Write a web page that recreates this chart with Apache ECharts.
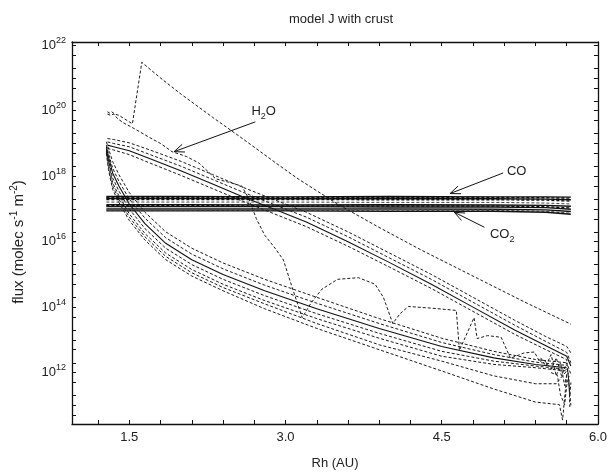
<!DOCTYPE html>
<html lang="en">
<head>
<meta charset="UTF-8">
<title>model J with crust</title>
<style>
  html, body { margin: 0; padding: 0; background: #fff; }
  #chart { width: 610px; height: 475px; }
</style>
<script src="https://cdn.jsdelivr.net/npm/echarts@6/dist/echarts.min.js"></script>
</head>
<body>
<div id="chart"></div>
<script>
// axis ticks
const xTicks = [1.2, 1.5, 1.8, 2.1, 2.4, 2.7, 3.0, 3.3, 3.6, 3.9, 4.2, 4.5, 4.8, 5.1, 5.4, 5.7, 6.0];
const xLabels = [1.5, 3.0, 4.5, 6.0];
const yLabels = [12, 14, 16, 18, 20, 22];      // exponents of 10
const yMantissas = [1, 2, 5];

// all flux values below are log10(flux), Rh in AU

// CO / CO2 band (nearly flat lines)
const xBand = [1.28, 2.0, 3.0, 4.0, 5.0, 5.5, 5.74];
const coLine1 = [17.38, 17.38, 17.37, 17.38, 17.37, 17.37, 17.36];
const coLine2 = [17.35, 17.35, 17.35, 17.34, 17.35, 17.34, 17.33];
const coLine3 = [17.32, 17.32, 17.31, 17.32, 17.31, 17.30, 17.28];
const coLine4 = [17.29, 17.29, 17.29, 17.28, 17.28, 17.27, 17.24];
const midLine = [17.21, 17.21, 17.21, 17.20, 17.20, 17.18, 17.15];
const co2Line1 = [17.13, 17.13, 17.12, 17.13, 17.12, 17.11, 17.08];
const co2Line2 = [17.10, 17.10, 17.09, 17.09, 17.09, 17.07, 17.03];
const co2Line3 = [17.07, 17.07, 17.07, 17.06, 17.06, 17.04, 16.99];
const co2Line4 = [17.00, 17.00, 17.00, 17.00, 16.99, 16.97, 16.92];
const co2Line5 = [16.97, 16.97, 16.96, 16.97, 16.96, 16.93, 16.87];
const co2Line6 = [16.94, 16.94, 16.94, 16.93, 16.93, 16.90, 16.84];

// H2O: spiked curve
const h2oSpike = [[1.29,19.97],[1.31,19.93],[1.33,19.97],[1.36,19.9],[1.40,19.86],[1.45,19.76],[1.53,19.6],
  [1.62,21.48],[1.8,21.0],[2.0,20.5],[2.3,19.8],[2.6,19.12],[2.9,18.42],[3.12,17.92],[3.5,17.15],
  [3.89,16.45],[4.3,15.75],[4.8,14.95],[5.3,14.15],[5.74,13.48]];

// H2O: jagged curve
const h2oJagged = [[1.29,19.9],[1.32,19.86],[1.35,19.9],[1.39,19.75],[1.45,19.62],[1.55,19.45],[1.69,19.19],
  [1.8,19.0],[1.91,18.75],[2.05,18.6],[2.17,18.4],[2.33,17.92],[2.45,17.82],[2.58,17.7],[2.65,17.3],
  [2.72,16.7],[2.8,16.2],[2.9,15.8],[2.98,15.44],[3.06,14.64],[3.16,13.68],[3.25,14.15],[3.35,14.55],
  [3.5,14.85],[3.7,14.9],[3.86,14.7],[3.94,14.3],[4.03,13.5],[4.1,13.8],[4.18,14.02],[4.4,13.97],
  [4.64,13.9],[4.67,12.68],[4.81,13.68],[4.84,13.04],[4.94,13.13],[5.07,13.08],[5.16,12.44],[5.29,12.6],
  [5.39,12.63],[5.44,12.33],[5.48,12.4],[5.55,12.1],[5.6,12.45],[5.65,11.9],[5.7,12.3],[5.74,11.95]];

// H2O: upper bundle
const xUpper = [1.29, 1.35, 1.5, 1.7, 2.0, 2.3, 2.6, 2.9, 3.2, 3.6, 4.0, 4.4, 4.8, 5.2, 5.5, 5.7, 5.74];
const upper1 = [19.15, 19.12, 19.02, 18.8, 18.45, 18.05, 17.65, 17.27, 16.9, 16.3, 15.65, 15.0, 14.3, 13.6, 13.1, 12.8, 12.6];
const upper2 = [19.05, 19.0, 18.9, 18.66, 18.3, 17.9, 17.5, 17.12, 16.75, 16.15, 15.5, 14.85, 14.15, 13.45, 12.95, 12.62, 12.3];
const upper3 = [18.95, 18.9, 18.78, 18.53, 18.16, 17.76, 17.36, 16.98, 16.6, 16.0, 15.36, 14.7, 14.0, 13.3, 12.82, 12.5, 12.2];
const upper4 = [18.85, 18.8, 18.66, 18.4, 18.02, 17.62, 17.22, 16.84, 16.46, 15.86, 15.22, 14.57, 13.87, 13.17, 12.7, 12.4, 11.0];

// H2O: lower bundle
const xLower = [1.28, 1.3, 1.34, 1.4, 1.5, 1.65, 1.85, 2.1, 2.4, 2.8, 3.3, 3.9, 4.5, 5.0, 5.4, 5.7];
const lower1 = [19.05, 18.85, 18.45, 18.05, 17.5, 16.9, 16.3, 15.8, 15.35, 14.85, 14.3, 13.65, 13.05, 12.65, 12.4, 12.3];
const lower2 = [18.95, 18.7, 18.25, 17.85, 17.3, 16.72, 16.12, 15.62, 15.17, 14.67, 14.12, 13.5, 12.92, 12.55, 12.32, 12.22];
const lower3 = [18.9, 18.6, 18.1, 17.7, 17.15, 16.55, 15.95, 15.45, 15.0, 14.5, 13.95, 13.35, 12.8, 12.45, 12.25, 12.15];
const lower4 = [18.85, 18.5, 17.95, 17.55, 17.0, 16.4, 15.8, 15.3, 14.85, 14.35, 13.8, 13.2, 12.65, 12.35, 12.2, 12.1];
const lower5 = [18.8, 18.4, 17.8, 17.4, 16.85, 16.25, 15.65, 15.15, 14.7, 14.2, 13.65, 13.05, 12.5, 12.25, 12.15, 12.05];
const lower6 = [[1.28,18.75],[1.3,18.3],[1.34,17.7],[1.4,17.3],[1.5,16.75],[1.65,16.15],[1.85,15.55],[2.1,15.05],
  [2.4,14.6],[2.8,14.1],[3.3,13.5],[3.9,12.85],[4.5,12.35],[5.0,11.9],[5.4,11.66],[5.6,11.66],[5.66,11.9],[5.7,12.05]];
const lower7 = [[1.28,18.7],[1.3,18.2],[1.34,17.6],[1.4,17.2],[1.5,16.65],[1.65,16.05],[1.85,15.45],[2.1,14.95],
  [2.4,14.5],[2.8,13.95],[3.3,13.35],[3.9,12.7],[4.5,12.05],[5.0,11.5],[5.4,11.1],[5.63,11.02],[5.66,10.55],[5.7,11.9]];

// noisy ends near the last Rh values
const tailA = [[5.45,12.45],[5.5,12.2],[5.55,12.55],[5.6,11.9],[5.64,12.3],[5.68,11.6],[5.71,12.1],[5.73,11.3],[5.74,11.7]];
const tailB = [[5.55,12.0],[5.61,11.92],[5.64,11.32],[5.68,11.02],[5.7,11.6],[5.72,11.9],[5.73,10.95]];

const X_MIN = 0.95, X_MAX = 6.0, Y_MIN = 10.43, Y_MAX = 22.1;
const FONT = 'Liberation Sans, Arial, sans-serif';

const yTicks = [];
for (let n = 10; n <= 22; n++) {
  yMantissas.forEach(m => {
    const v = n + Math.log10(m);
    if (v >= Y_MIN && v <= Y_MAX) yTicks.push(v);
  });
}

function zip(xs, ys) { return xs.map((x, i) => [x, ys[i]]); }

function line(data, dashed, color, width) {
  return {
    type: 'line', data: data, symbol: 'none', silent: true, animation: false,
    lineStyle: { color: color || '#1a1a1a', width: width || 1, type: dashed ? [3, 2] : 'solid' }
  };
}

const series = [
  line(h2oSpike, true),
  line(h2oJagged, true),
  line(zip(xUpper, upper1), true),
  line(zip(xUpper, upper2), true),
  line(zip(xUpper, upper3), false, '#111', 1.1),
  line(zip(xUpper, upper4), true),
  line(zip(xLower, lower1), true),
  line(zip(xLower, lower2), true),
  line(zip(xLower, lower3), false, '#111', 1.1),
  line(zip(xLower, lower4), true),
  line(zip(xLower, lower5), true),
  line(lower6, true),
  line(lower7, true),
  line(tailA, true),
  line(tailB, true),
  line(zip(xBand, coLine1), false, '#111', 1.4),
  line(zip(xBand, coLine2), true, '#111', 1.4),
  line(zip(xBand, coLine3), false, '#111', 1.4),
  line(zip(xBand, coLine4), true, '#111', 1.4),
  line(zip(xBand, midLine), true, '#444', 1),
  line(zip(xBand, co2Line1), false, '#111', 1.4),
  line(zip(xBand, co2Line2), true, '#111', 1.4),
  line(zip(xBand, co2Line3), false, '#111', 1.4),
  line(zip(xBand, co2Line4), false, '#111', 1.4),
  line(zip(xBand, co2Line5), true, '#555', 1.3),
  line(zip(xBand, co2Line6), false, '#111', 1.4)
];

const tickStyle = { inside: true, length: 4, lineStyle: { color: '#111', width: 1 } };
const axisLineStyle = { show: true, onZero: false, lineStyle: { color: '#111', width: 1.3 } };

const option = {
  backgroundColor: '#fff',
  animation: false,
  title: {
    text: 'model J with crust', left: 336, top: 8, textAlign: 'center',
    textStyle: { fontFamily: FONT, fontSize: 13, fontWeight: 'normal', color: '#222' }
  },
  grid: { left: 72, right: 10, top: 42, bottom: 48, show: false },
  xAxis: [{
    type: 'value', min: X_MIN, max: X_MAX, position: 'bottom',
    name: 'Rh (AU)', nameLocation: 'middle', nameGap: 33,
    nameTextStyle: { fontFamily: FONT, fontSize: 13, color: '#222' },
    axisLine: axisLineStyle,
    axisTick: Object.assign({ customValues: xTicks }, tickStyle),
    axisLabel: { customValues: xLabels, margin: 7, fontFamily: FONT, fontSize: 13, color: '#222',
      formatter: v => v.toFixed(1) },
    splitLine: { show: false }
  }, {
    type: 'value', min: X_MIN, max: X_MAX, position: 'top',
    axisLine: axisLineStyle,
    axisTick: Object.assign({ customValues: xTicks }, tickStyle),
    axisLabel: { show: false }, splitLine: { show: false }
  }],
  yAxis: [{
    type: 'value', min: Y_MIN, max: Y_MAX, position: 'left',
    axisLine: axisLineStyle,
    axisTick: Object.assign({ customValues: yTicks }, tickStyle),
    axisLabel: {
      customValues: yLabels, margin: 6, color: '#222',
      formatter: v => '{b|10}{s|' + Math.round(v) + '}',
      rich: {
        b: { fontFamily: FONT, fontSize: 13, color: '#222' },
        s: { fontFamily: FONT, fontSize: 9, color: '#222', padding: [0, 0, 10, 0] }
      }
    },
    splitLine: { show: false }
  }, {
    type: 'value', min: Y_MIN, max: Y_MAX, position: 'right',
    axisLine: axisLineStyle,
    axisTick: Object.assign({ customValues: yTicks }, tickStyle),
    axisLabel: { show: false }, splitLine: { show: false }
  }],
  series: series
};

const chart = echarts.init(document.getElementById('chart'), null, { renderer: 'canvas' });
chart.setOption(option);

// annotations: label position, arrow start, arrow tip (data coords)
const notes = [
  { text: 'H{s|2}O', at: [2.79, 19.98], from: [2.71, 19.66], to: [1.93, 18.75] },
  { text: 'CO', at: [5.22, 18.16], from: [5.09, 18.1], to: [4.58, 17.47] },
  { text: 'CO{s|2}', at: [5.08, 16.22], from: [4.91, 16.44], to: [4.62, 16.9] }
];

const graphics = [{
  // y axis title, placed by hand so it sits like the original
  type: 'text', x: 19, y: 242, rotation: Math.PI / 2, silent: true,
  style: {
    text: 'flux (molec s{s|-1} m{s|-2})', font: '15px ' + FONT, fill: '#222',
    align: 'center', verticalAlign: 'middle',
    rich: { s: { fontSize: 10, fontFamily: FONT, fill: '#222', padding: [0, 0, 10, 0] } }
  }
}];
notes.forEach(n => {
  const p = chart.convertToPixel({ gridIndex: 0 }, n.at);
  const a = chart.convertToPixel({ gridIndex: 0 }, n.from);
  const b = chart.convertToPixel({ gridIndex: 0 }, n.to);
  graphics.push({
    type: 'text', x: p[0], y: p[1], silent: true,
    style: {
      text: n.text, font: '13px ' + FONT, fill: '#222', align: 'center', verticalAlign: 'middle',
      rich: { s: { fontSize: 9, fontFamily: FONT, fill: '#222', padding: [10, 0, 0, 0] } }
    }
  });
  graphics.push({
    type: 'line', silent: true,
    shape: { x1: a[0], y1: a[1], x2: b[0], y2: b[1] },
    style: { stroke: '#111', lineWidth: 1 }
  });
  const dx = a[0] - b[0], dy = a[1] - b[1];
  const len = Math.sqrt(dx * dx + dy * dy);
  const ux = dx / len, uy = dy / len;
  const hl = 11, ang = 22 * Math.PI / 180;
  const c = Math.cos(ang), s = Math.sin(ang);
  const h1 = [b[0] + hl * (ux * c - uy * s), b[1] + hl * (ux * s + uy * c)];
  const h2 = [b[0] + hl * (ux * c + uy * s), b[1] + hl * (-ux * s + uy * c)];
  graphics.push({
    type: 'polyline', silent: true,
    shape: { points: [h1, [b[0], b[1]], h2] },
    style: { stroke: '#111', lineWidth: 1, fill: null }
  });
});
chart.setOption({ graphic: graphics });
</script>
</body>
</html>
